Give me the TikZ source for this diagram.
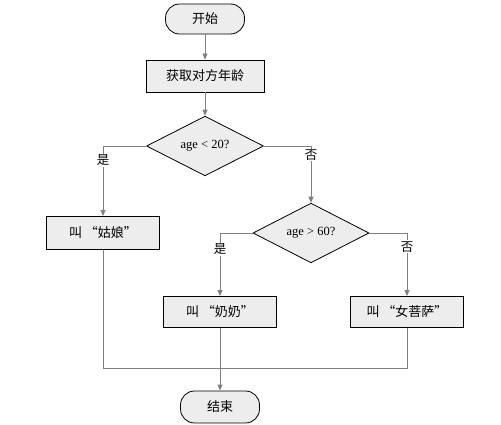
\documentclass[tikz,border=0pt]{standalone}
\usepackage{fontspec}
\setmainfont{Liberation Serif}
\newfontfamily\cjk{Noto Sans CJK SC}
\usetikzlibrary{shapes.geometric,arrows.meta}
\begin{document}
\begin{tikzpicture}[x=1pt,y=-1pt,
  base/.style={draw=black,fill=black!7,line width=0.8pt,font=\fontsize{12.5}{14}\selectfont,inner sep=0pt},
  term/.style={base,rectangle,rounded corners=14pt,minimum width=79pt,minimum height=30pt},
  proc/.style={base,rectangle,minimum width=114pt,minimum height=32pt},
  dec/.style={base,diamond,minimum width=117pt,minimum height=49pt},
  conn/.style={draw=black!50,line width=0.8pt},
  arr/.style={conn,-{Triangle[length=6pt,width=5pt]}},
  lab/.style={fill=white,inner sep=1pt,font=\cjk\fontsize{12.5}{14}\selectfont},
  zh/.style={font=\cjk\fontsize{13}{15}\selectfont}]
\useasboundingbox (0,0) rectangle (501,425);
\node[term,zh] (start) at (205,19) {开始};
\node[proc,zh,minimum width=118pt] (get) at (205,76) {获取对方年龄};
\node[dec] (d1) at (205,146) {age < 20?};
\node[proc,zh,minimum width=113pt,minimum height=33pt] (girl) at (103,233) {叫 “姑娘”};
\node[dec,minimum width=116pt,minimum height=39pt] (d2) at (311,233) {age > 60?};
\node[proc,zh,minimum width=113pt,minimum height=31pt] (granny) at (220,312) {叫 “奶奶”};
\node[proc,zh,minimum width=113pt,minimum height=31pt] (bodhi) at (407,312) {叫 “女菩萨”};
\node[term,zh,minimum width=79pt,minimum height=32pt] (end) at (220,407) {结束};
\coordinate (merge) at (220,368);
\draw[arr] (start) -- (get);
\draw[arr] (get) -- (d1);
\draw[arr] (d1.west) -| node[lab,pos=0.6] {是} (girl.north);
\draw[arr] (d1.east) -| node[lab,pos=0.58] {否} (d2.north);
\draw[arr] (d2.west) -| node[lab,pos=0.63] {是} (granny.north);
\draw[arr] (d2.east) -| node[lab,pos=0.61] {否} (bodhi.north);
\draw[conn] (girl.south) |- (merge);
\draw[conn] (bodhi.south) |- (merge);
\draw[arr] (granny.south) -- (end.north);
\end{tikzpicture}
\end{document}
